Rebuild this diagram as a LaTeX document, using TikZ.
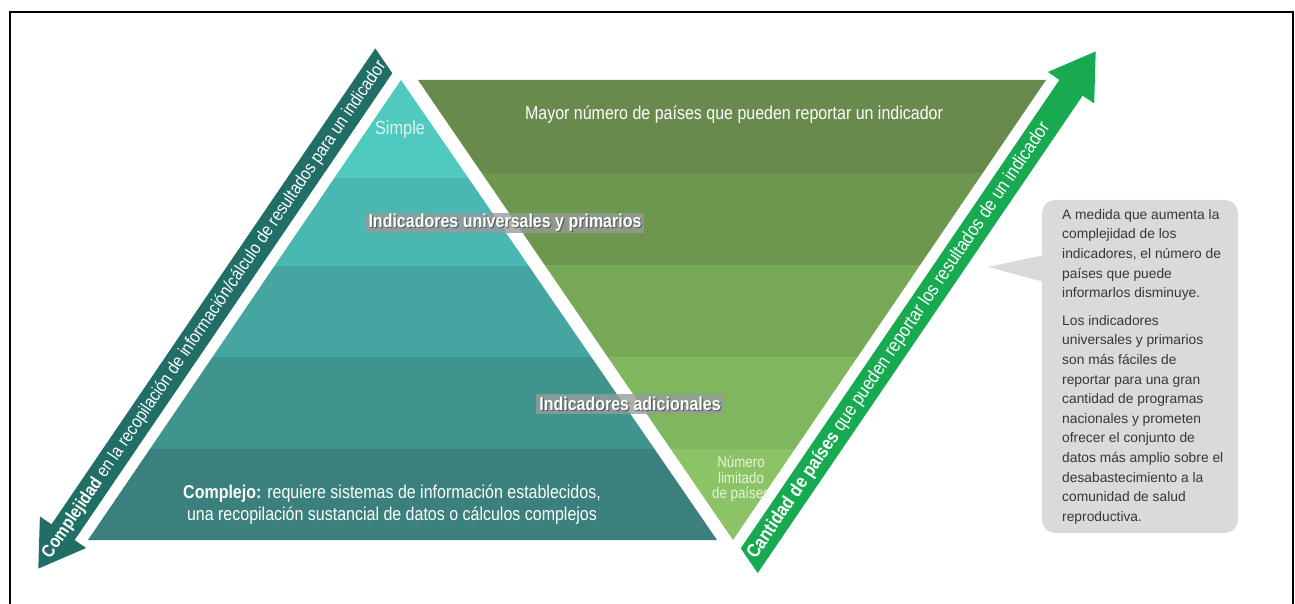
\documentclass[tikz,border=0pt]{standalone}
\usepackage{fontspec}
\setmainfont{Liberation Sans}
\newfontfamily\condf{Liberation Sans}[FakeStretch=0.86]
\usetikzlibrary{calc}
\definecolor{tealA}{RGB}{80,201,191}
\definecolor{tealB}{RGB}{74,184,178}
\definecolor{tealC}{RGB}{69,166,161}
\definecolor{tealD}{RGB}{64,148,142}
\definecolor{tealE}{RGB}{59,128,124}
\definecolor{grnA}{RGB}{104,138,76}
\definecolor{grnB}{RGB}{109,151,78}
\definecolor{grnC}{RGB}{118,168,86}
\definecolor{grnD}{RGB}{128,182,93}
\definecolor{grnE}{RGB}{141,195,103}
\definecolor{arrL}{RGB}{33,110,102}
\definecolor{arrR}{RGB}{24,170,80}
\definecolor{callbg}{RGB}{218,218,220}
\definecolor{calltx}{RGB}{55,55,55}
\definecolor{lblbox}{RGB}{150,155,155}
\definecolor{simpleC}{RGB}{225,245,242}
\definecolor{numC}{RGB}{230,245,215}
\newcommand\shtext[1]{\rlap{\kern1.2pt\raisebox{-1.2pt}{\textcolor{black!65}{#1}}}#1}
\begin{document}
\begin{tikzpicture}[x=1pt,y=-1pt,
  big/.style={font=\condf\fontsize{18.6}{22}\selectfont, inner sep=0pt},
  axistext/.style={font=\condf\fontsize{18}{20}\selectfont, inner sep=0pt, text=white, sloped},
  lbl/.style={fill=lblbox, fill opacity=0.8, text opacity=1, text=white,
    font=\condf\bfseries\fontsize{18.6}{20}\selectfont, inner xsep=3pt, inner ysep=1pt,
    minimum height=20pt},
  calltext/.style={font=\fontsize{13.8}{19.6}\selectfont, text=calltx, align=left,
    anchor=north west, inner sep=0pt}]
\useasboundingbox (0,0) rectangle (1295,604);
% frame
\draw[line width=2pt] (10,610) -- (10,12) -- (1293,12) -- (1293,610);

% teal pyramid
\coordinate (TA) at (401,80);
\coordinate (TL) at (88,540);
\coordinate (TR) at (717,540);
\begin{scope}
\clip (TA) -- (TL) -- (TR) -- cycle;
\fill[tealA] (80,70) rectangle (730,178);
\fill[tealB] (80,178) rectangle (730,266);
\fill[tealC] (80,266) rectangle (730,357);
\fill[tealD] (80,357) rectangle (730,449);
\fill[tealE] (80,449) rectangle (730,541);
\end{scope}

% green inverted triangle
\coordinate (GL) at (418,80);
\coordinate (GR) at (1046,80);
\coordinate (GA) at (733,540);
\begin{scope}
\clip (GL) -- (GR) -- (GA) -- cycle;
\fill[grnA] (410,70) rectangle (1060,173);
\fill[grnB] (410,173) rectangle (1060,265);
\fill[grnC] (410,265) rectangle (1060,357);
\fill[grnD] (410,357) rectangle (1060,449);
\fill[grnE] (410,449) rectangle (1060,545);
\end{scope}

% left axis arrow
\coordinate (LAtopO) at (375.3,48.4);
\coordinate (LAtopI) at (392.3,73.2);
\coordinate (LAshI) at (74.6,540.1);
\coordinate (LAbI) at (86.2,548.0);
\coordinate (LAtip) at (38.3,568.6);
\coordinate (LAbO) at (39.9,516.5);
\coordinate (LAshO) at (51.5,524.3);
\fill[arrL] (LAtopO) -- (LAtopI) -- (LAshI) -- (LAbI) -- (LAtip) -- (LAbO) -- (LAshO) -- cycle;
\coordinate (LAcT) at (386.5,56.9);
\path (LAtip) -- (LAcT) node[axistext, pos=0.506] (ltext)
  {\textbf{Complejidad} en la recopilación de información/cálculo de resultados para un indicador};

% right axis arrow
\coordinate (RAbotI) at (740.7,548.3);
\coordinate (RAbotO) at (757.7,573.1);
\coordinate (RAshO) at (1082.6,95.7);
\coordinate (RAbO) at (1094.2,103.5);
\coordinate (RAtip) at (1095.7,51.4);
\coordinate (RAbI) at (1047.9,72.0);
\coordinate (RAshI) at (1059.4,79.9);
\fill[arrR] (RAbotI) -- (RAbotO) -- (RAshO) -- (RAbO) -- (RAtip) -- (RAbI) -- (RAshI) -- cycle;
\coordinate (RAcB) at (749.2,560.7);
\path (RAcB) -- (RAtip) node[axistext, font=\condf\fontsize{19}{20}\selectfont, pos=0.432] (rtext)
  {\textbf{Cantidad de países} que pueden reportar los resultados de un indicador};

% labels
\node[big, text=white] (mayor) at (734,115) {Mayor número de países que pueden reportar un indicador};
\node[font=\condf\fontsize{19}{21}\selectfont, text=simpleC] (simple) at (400,130) {Simple};
\node[lbl] (univ) at (505,223) {\shtext{Indicadores universales y primarios}};
\node[lbl] (adic) at (630,404) {\shtext{Indicadores adicionales}};
\node[big, align=center, text=white, font=\condf\fontsize{18.6}{22}\selectfont] (compl) at (392,505)
  {\textbf{Complejo:} requiere sistemas de información establecidos,\\
   una recopilación sustancial de datos o cálculos complejos};
\node[font=\condf\fontsize{15.5}{15.5}\selectfont, align=center, text=numC] (num) at (741,479)
  {Número\\limitado\\de países};

% callout
\fill[callbg, rounded corners=13pt] (1042,200) rectangle (1238,533);
\fill[callbg] (1044,255) -- (988,267) -- (1044,282) -- cycle;
\node[calltext] (callout) at (1062,209)
  {A medida que aumenta la\\
   complejidad de los\\
   indicadores, el número de\\
   países que puede\\
   informarlos disminuye.\\[8pt]
   Los indicadores\\
   universales y primarios\\
   son más fáciles de\\
   reportar para una gran\\
   cantidad de programas\\
   nacionales y prometen\\
   ofrecer el conjunto de\\
   datos más amplio sobre el\\
   desabastecimiento a la\\
   comunidad de salud\\
   reproductiva.};
\end{tikzpicture}
\end{document}
